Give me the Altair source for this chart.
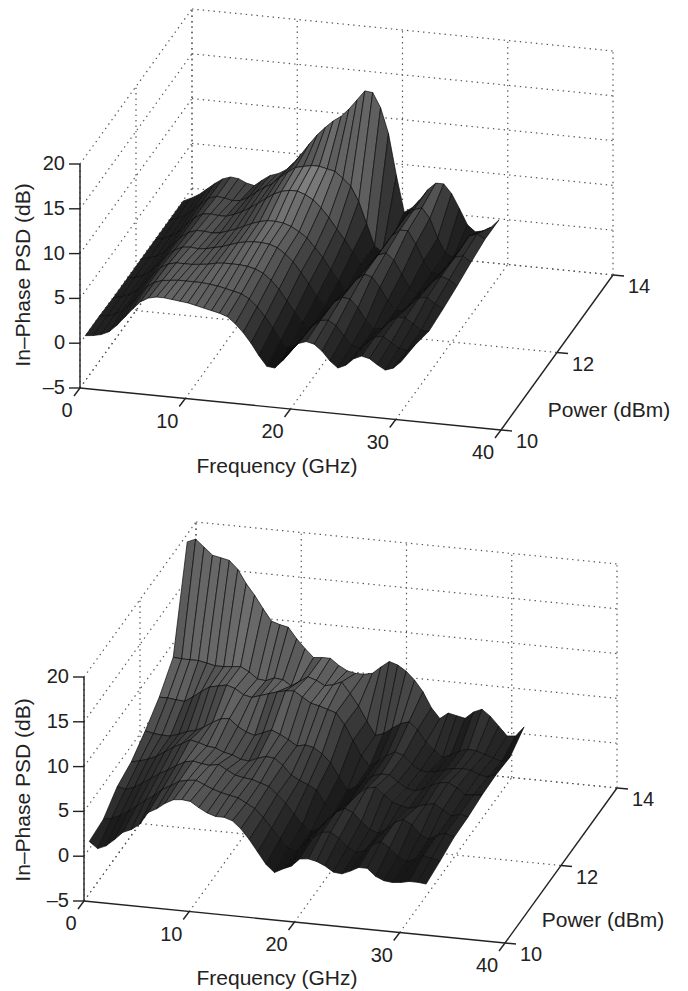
import altair as alt
import pandas as pd

W, H = 672, 975
M = 8

# --- values (dB); one row per power level, 41 frequencies
TOP_F0, TOP_STEP = 0.5, 0.75
BOT_F0, BOT_STEP = 0.5, 0.8
POWERS = [10, 10.5, 11, 11.5, 12, 12.5, 13, 13.5]

top_p100 = [.9,1.0,1.2,1.6,2.4,3.4,4.4,5.3,5.8,6.0,6.0,5.9,5.8,5.7,5.5,5.3,5.1,4.9,4.6,3.9,3.0,1.9,.6,-.5,-.6,.3,1.5,2.4,2.7,2.5,1.8,.8,.1,.5,1.3,1.7,1.5,.9,.4,.7,1.5]
top_p105 = [.9,1.0,1.3,1.8,2.7,3.7,4.7,5.3,5.6,5.7,5.8,5.8,5.8,5.8,5.7,5.6,5.4,5.2,5.0,4.5,3.7,2.7,1.5,.2,-.5,-.1,1.0,2.2,2.9,3.0,2.5,1.4,.4,.2,1.0,1.7,1.8,1.2,.6,.5,1.2]
top_p110 = [.8,1.0,1.3,1.9,2.8,3.8,4.7,5.2,5.4,5.4,5.4,5.5,5.6,5.8,5.9,5.9,5.9,5.8,5.6,5.2,4.5,3.6,2.4,1.2,.1,-.4,.2,1.6,2.8,3.4,3.3,2.4,1.1,.2,.3,1.2,1.8,1.8,1.2,.6,.6]
top_p115 = [.8,1.0,1.3,1.9,2.8,3.8,4.5,4.9,5.0,4.9,5.0,5.2,5.4,5.7,6.0,6.2,6.3,6.3,6.2,5.9,5.3,4.5,3.4,2.2,.9,-.1,-.4,.5,2.0,3.2,3.9,3.7,2.6,1.2,.2,.3,1.1,1.9,2.0,1.4,.9]
top_p120 = [.8,1.0,1.3,1.9,2.8,3.7,4.3,4.6,4.6,4.5,4.6,4.9,5.2,5.6,6.0,6.3,6.5,6.5,6.4,6.1,5.6,5.0,4.0,3.0,1.7,.5,-.4,-.1,1.3,2.8,3.9,4.2,3.5,2.0,.6,0,.6,1.6,2.2,1.9,1.3]
top_p125 = [.8,1.0,1.4,2.0,2.9,3.7,4.2,4.3,4.2,4.2,4.5,4.9,5.4,6.0,6.6,7.2,7.6,7.8,7.8,7.5,7.0,6.2,5.2,4.0,2.9,1.6,.3,-.3,.9,2.6,3.9,4.6,4.6,3.2,1.4,.2,.1,1.1,2.2,2.4,1.8]
top_p130 = [.8,1.1,1.5,2.2,3.0,3.7,4.0,3.9,3.7,3.8,4.2,4.9,5.5,6.0,6.8,7.5,8.1,8.3,8.5,8.5,8.3,8.1,7.4,6.6,5.0,2.6,.2,-.4,.8,2.5,3.9,4.7,5.0,3.9,1.8,.2,-.2,1.0,2.4,2.7,2.2]
top_p135 = [.8,1.2,1.7,2.4,3.1,3.7,4.0,3.9,3.5,3.3,4.0,4.6,4.9,5.4,6.3,7.4,8.6,9.7,10.6,11.4,12.0,12.9,14.0,15.1,15.0,13.4,10.6,6.0,2.0,2.6,3.6,4.8,5.6,5.6,4.6,3.0,1.3,.6,.8,1.3,2.2]

bot_p100 = [1.7,1.0,1.4,2.2,3.1,3.5,4.2,5.6,6.1,6.8,7.3,7.4,7.3,6.7,6.2,5.9,5.9,5.6,4.8,3.7,2.4,1.1,.3,.8,1.2,2.1,2.2,2.0,1.6,1.0,.9,1.3,1.8,1.8,1.0,.6,.5,.6,.8,.8,.7]
bot_p105 = [2.0,2.2,2.6,3.2,3.9,4.6,5.2,6.0,6.5,7.1,7.3,7.4,7.0,6.6,6.3,6.1,5.9,5.4,4.9,4.0,2.9,1.8,.8,.6,1.5,2.4,3.0,3.1,2.5,1.6,1.1,1.4,2.2,2.6,2.0,1.1,.7,1.0,1.5,1.3,1.1]
bot_p110 = [3.5,3.3,3.6,4.2,4.8,5.4,5.9,6.5,7.0,7.2,7.0,6.9,7.1,6.6,6.1,5.9,5.8,5.5,5.2,4.4,3.5,2.4,1.3,.6,1.1,2.2,3.1,3.6,3.2,2.3,1.5,1.2,1.8,2.6,3.0,2.5,1.5,1.1,1.6,1.9,1.6]
bot_p115 = [4.1,4.3,4.6,5.0,5.6,6.2,6.7,7.2,7.0,6.7,6.6,6.2,6.0,5.6,5.5,5.9,6.2,6.1,5.4,4.4,3.9,3.5,3.0,1.6,.5,1.0,2.1,3.1,3.8,4.0,3.2,2.5,2.2,2.0,2.3,2.6,2.8,2.2,1.6,1.9,1.7]
bot_p120 = [5.4,5.2,5.1,5.1,5.4,5.8,6.0,6.5,7.1,7.6,7.7,6.9,6.4,6.1,6.5,6.9,6.5,6.0,5.4,5.6,5.4,4.8,3.9,2.4,1.0,1.5,2.3,2.9,3.2,3.2,2.5,1.9,1.7,2.0,2.5,2.9,3.0,2.5,1.8,1.9,2.0]
bot_p125 = [7.0,7.0,6.9,6.8,7.4,8.1,8.7,8.9,9.1,8.8,8.2,8.0,8.3,8.6,8.9,9.1,9.2,8.6,8.0,7.8,7.5,7.2,6.0,4.3,2.7,1.6,2.3,3.0,3.5,3.2,2.3,1.7,1.6,1.8,2.1,2.3,2.4,2.3,1.9,1.7,2.1]
bot_p130 = [9.3,9.2,9.2,9.2,9.0,8.8,8.8,8.9,9.0,8.5,7.8,7.7,8.1,8.0,7.4,8.0,8.6,8.3,7.8,8.0,8.4,7.2,5.9,4.3,2.8,3.1,3.8,4.4,4.7,3.9,2.6,1.8,1.1,1.5,2.0,2.3,2.2,1.9,1.6,1.3,1.9]
bot_p135 = [20.0,20.4,19.6,18.8,18.6,18.4,17.5,16.0,14.8,13.4,12.1,11.8,11.6,10.4,9.4,8.5,8.6,8.6,7.9,7.4,7.2,7.2,7.4,8.2,8.9,8.6,8.0,7.1,5.9,4.2,3.1,3.8,3.6,3.4,4.2,4.6,3.9,2.9,1.9,2.0,3.1]

TOP_ROWS = [top_p100, top_p105, top_p110, top_p115, top_p120, top_p125, top_p130, top_p135]
BOT_ROWS = [bot_p100, bot_p105, bot_p110, bot_p115, bot_p120, bot_p125, bot_p130, bot_p135]

F_TICKS = [0, 10, 20, 30, 40]
P_TICKS = [10, 12, 14]
Z_TICKS = [-5, 0, 5, 10, 15, 20]
Z_LABELS = ["\u20135", "0", "5", "10", "15", "20"]


def project(origin, f, p, z):
    """Parallel projection of the 3-D axes box on to the page."""
    return (origin[0] + f * 421 / 40 + (p - 10) * 28,
            origin[1] + f * 42 / 40 - (p - 10) * 155 / 4 - (z + 5) * 224 / 25)


def surface(origin, rows, f0, step, gain):
    feats = []
    for i in range(len(POWERS) - 2, -1, -1):
        for j in range(len(rows[0]) - 1):
            a, b = rows[i][j], rows[i][j + 1]
            c, d = rows[i + 1][j + 1], rows[i + 1][j]
            f1, f2 = f0 + j * step, f0 + (j + 1) * step
            p1, p2 = POWERS[i], POWERS[i + 1]
            gf = ((b - a) + (c - d)) / 2 / step * 9 / 10.5
            gp = ((d - a) + (c - b)) / 2 / (p2 - p1) * 9 / 47
            n = (gf ** 2 + 0.3 * gp ** 2 + 1) ** 0.5
            lit = 0.6 + 0.4 / n
            if gf > 0:
                lit /= 1 + 0.6 * gf
            zm = (a + b + c + d) / 4
            g_eff = gain + (1 - gain) * min(1.0, max(0.0, (zm - 9) / 3))
            s = g_eff * max(0.04, min(0.52, 0.10 + 0.05 * zm)) * lit
            g = int(max(8, min(130, s * 255)))
            ring = [project(origin, f1, p1, a), project(origin, f2, p1, b),
                    project(origin, f2, p2, c), project(origin, f1, p2, d)]
            ring = [[x - M, y - M] for x, y in ring]
            feats.append({"type": "Feature",
                          "geometry": {"type": "Polygon", "coordinates": [ring + [ring[0]]]},
                          "properties": {"g": f"rgb({g},{g},{g})"}})
    return feats


def frame(origin):
    dotted, solid, labels = [], [], []

    def seg(store, a, b):
        x, y = project(origin, *a)
        x2, y2 = project(origin, *b)
        store.append({"x": x, "y": y, "x2": x2, "y2": y2})

    for f in F_TICKS:
        seg(dotted, (f, 14, -5), (f, 14, 20))
        if f < 40:
            seg(dotted, (f, 10, -5), (f, 14, -5))
    for p in P_TICKS:
        seg(dotted, (0, p, -5), (0, p, 20))
        if p > 10:
            seg(dotted, (0, p, -5), (40, p, -5))
    for z in Z_TICKS:
        seg(dotted, (0, 10, z), (0, 14, z))
        seg(dotted, (0, 14, z), (40, 14, z))
    seg(solid, (0, 10, -5), (40, 10, -5))
    seg(solid, (40, 10, -5), (40, 14, -5))
    seg(solid, (0, 10, -5), (0, 10, 20))
    for f in F_TICKS:
        x, y = project(origin, f, 10, -5)
        solid.append({"x": x, "y": y, "x2": x - 6, "y2": y + 8})
        dx = -13 if f == 0 else -18
        labels.append({"x": x + dx, "y": y + 23, "t": str(f)})
    for p in P_TICKS:
        x, y = project(origin, 40, p, -5)
        solid.append({"x": x, "y": y, "x2": x + 11, "y2": y + 1})
        labels.append({"x": x + 26, "y": y + 12, "t": str(p)})
    for z, t in zip(Z_TICKS, Z_LABELS):
        x, y = project(origin, 0, 10, z)
        solid.append({"x": x, "y": y, "x2": x - 11, "y2": y})
        labels.append({"x": x - 15, "y": y, "t": t, "right": True})
    return dotted, solid, labels


ORIGIN_TOP = (80, 384)
ORIGIN_BOT = (84, 897)

features = surface(ORIGIN_TOP, TOP_ROWS, TOP_F0, TOP_STEP, 1.0) + surface(ORIGIN_BOT, BOT_ROWS, BOT_F0, BOT_STEP, 0.78)
d1, s1, l1 = frame(ORIGIN_TOP)
d2, s2, l2 = frame(ORIGIN_BOT)

dotted = pd.DataFrame(d1 + d2)
solid = pd.DataFrame(s1 + s2)
labels = pd.DataFrame(l1 + l2)
labels["right"] = labels["right"].fillna(False).astype(bool)

titles_h = pd.DataFrame([
    {"x": 277, "y": 463, "t": "Frequency (GHz)"},
    {"x": 609, "y": 407, "t": "Power (dBm)"},
    {"x": 277, "y": 975, "t": "Frequency (GHz)"},
    {"x": 603, "y": 917, "t": "Power (dBm)"},
])
titles_v = pd.DataFrame([
    {"x": 24, "y": 271, "t": "In\u2013Phase PSD (dB)"},
    {"x": 24, "y": 786, "t": "In\u2013Phase PSD (dB)"},
])

X = alt.X("x:Q", scale=alt.Scale(domain=[M, M + W], range=[0, W], nice=False, zero=False), axis=None)
Y = alt.Y("y:Q", scale=alt.Scale(domain=[M, M + H], range=[0, H], nice=False, zero=False), axis=None)
FONT = "Liberation Sans"

grid = alt.Chart(dotted).mark_rule(color="#555555", strokeWidth=1.2, strokeDash=[1.4, 4]).encode(x=X, y=Y, x2="x2:Q", y2="y2:Q")
surf = alt.Chart(alt.Data(values=features)).mark_geoshape(stroke="#0c0c0c", strokeWidth=0.7).encode(
    fill=alt.Fill("properties.g:N", scale=None)
).project(type="identity", scale=1, translate=[0, 0])
axes = alt.Chart(solid).mark_rule(color="#222222", strokeWidth=1.4).encode(x=X, y=Y, x2="x2:Q", y2="y2:Q")
t_c = alt.Chart(labels[~labels["right"]]).mark_text(font=FONT, fontSize=20, color="#222222", align="center", baseline="middle").encode(x=X, y=Y, text="t:N")
t_r = alt.Chart(labels[labels["right"]]).mark_text(font=FONT, fontSize=20, color="#222222", align="right", baseline="middle").encode(x=X, y=Y, text="t:N")
t_h = alt.Chart(titles_h).mark_text(font=FONT, fontSize=21, color="#222222", align="center", baseline="middle").encode(x=X, y=Y, text="t:N")
t_v = alt.Chart(titles_v).mark_text(font=FONT, fontSize=21, color="#222222", align="center", baseline="middle", angle=270).encode(x=X, y=Y, text="t:N")

chart = alt.layer(grid, surf, axes, t_c, t_r, t_h, t_v).resolve_scale(x="shared", y="shared").properties(
    width=W, height=H, padding=0
).configure_view(stroke=None)

chart.save("out.html", embed_options={"renderer": "svg", "actions": False})
